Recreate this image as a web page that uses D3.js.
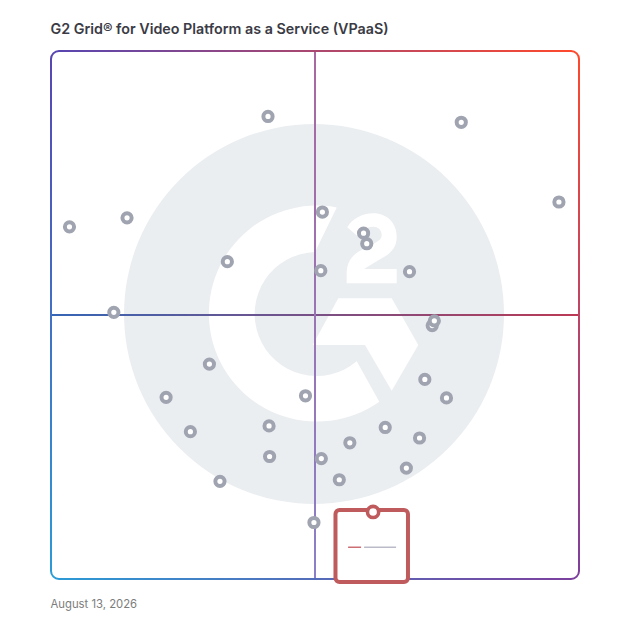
<!DOCTYPE html>
<html>
<head>
<meta charset="utf-8">
<title>G2 Grid</title>
<script src="https://cdn.jsdelivr.net/npm/d3@7"></script>
<style>
  html, body { margin: 0; padding: 0; background: #fff; }
  svg { display: block; }
  text { font-family: Inter, Roboto, sans-serif; }
</style>
</head>
<body>
<div id="chart"></div>
<script>
'use strict';

// ── Data ───────────────────────────────────────────────────────────────────
const TITLE = 'G2 Grid® for Video Platform as a Service (VPaaS)';
const DATE_LABEL = 'August 13, 2026';

const presence = [41.1, 77.7, 96.2, 3.5, 14.4, 51.4, 59.2, 59.8, 33.4, 51.1, 67.9, 11.9,
  72.2, 72.6, 30.0, 70.8, 74.9, 21.8, 48.2, 26.4, 41.3, 63.3, 69.8, 56.6, 41.4, 51.2,
  67.3, 54.6, 32.0, 49.8];
const satisfaction = [87.6, 86.5, 71.4, 66.7, 68.4, 69.5, 65.5, 63.5, 60.1, 58.4, 58.2, 50.5,
  48.0, 48.9, 40.7, 37.8, 34.3, 34.4, 34.7, 27.9, 29.0, 28.7, 26.7, 25.8, 23.2, 22.8,
  21.0, 18.8, 18.5, 10.7];

const highlightPresence = 61.0;
const highlightSatisfaction = 12.7;

// ── Scales ─────────────────────────────────────────────────────────────────
const W = 628, H = 628;
const x = d3.scaleLinear().domain([0, 100]).range([51, 579]);
const y = d3.scaleLinear().domain([0, 100]).range([579, 51]);

const svg = d3.select('#chart').append('svg').attr('width', W).attr('height', H);
const defs = svg.append('defs');

function gradient(id, x1, y1, x2, y2, from, to) {
  const g = defs.append('linearGradient').attr('id', id)
    .attr('gradientUnits', 'userSpaceOnUse')
    .attr('x1', x1).attr('y1', y1).attr('x2', x2).attr('y2', y2);
  g.append('stop').attr('offset', 0).attr('stop-color', from);
  g.append('stop').attr('offset', 1).attr('stop-color', to);
  return `url(#${id})`;
}

const TL = '#5746b2', TR = '#ff492c', BL = '#2b9bd6', BR = '#7d3f9e';
const [x0, x1] = x.range();
const [y0, y1] = y.range();

// ── Title and date ─────────────────────────────────────────────────────────
svg.append('text').attr('x', 50.5).attr('y', 34)
  .attr('font-size', 14.3).attr('font-weight', 600).attr('fill', '#3b3b45')
  .text(TITLE);

svg.append('text').attr('x', 50.5).attr('y', 608)
  .attr('font-size', 11.3).attr('fill', '#7c7c7c')
  .text(DATE_LABEL);

// ── G2 watermark ───────────────────────────────────────────────────────────
const logo = svg.append('g').attr('transform', 'translate(314,314)');
logo.append('circle').attr('r', 190).attr('fill', '#ebeef1');
logo.append('path').attr('fill', '#fff')
  .attr('d', 'M22.7,-106.6 A108,108 0 1 0 65.3,87.7 L42.7,47.3 A62,62 0 1 1 1,-62 Z');
logo.append('path').attr('fill', '#fff')
  .attr('d', 'M24.3,-15.7 L77.7,-15.7 L104.3,31 L77.7,76.7 L51,31 L-1.3,31 Z');
logo.append('path').attr('fill', '#fff')
  .attr('d', 'M33.3,-86.7 C38,-95 48,-100.7 59.3,-100.7 C73,-100.7 82.7,-91 82.7,-77.3 ' +
    'C82.7,-66 76,-60 67.7,-55.7 L50,-45 L82.7,-45 L82.7,-30.7 L32.7,-30.7 L32.7,-40.7 ' +
    'C32.7,-52 38,-58 44.3,-62.3 L62.7,-72 C66,-74 67.7,-76 67.7,-79 C67.7,-84 64,-87.3 59.3,-87.3 ' +
    'C52,-87.3 48,-83 44.3,-77.3 Z');

// ── Quadrant lines ─────────────────────────────────────────────────────────
svg.append('line')
  .attr('x1', x0).attr('x2', x1).attr('y1', y(50)).attr('y2', y(50))
  .attr('stroke', gradient('mid-h', x0, 0, x1, 0, '#3566b6', '#bb3a55'))
  .attr('stroke-width', 2);

svg.append('line')
  .attr('x1', x(50)).attr('x2', x(50)).attr('y1', y1).attr('y2', y0)
  .attr('stroke', gradient('mid-v', 0, y1, 0, y0, '#a9689f', '#8a80c8'))
  .attr('stroke-width', 2);

// ── Frame, one path per side so each can carry its own gradient ────────────
const r = 8;
const sides = [
  { id: 'top', d: `M${x0},${y1 + r} A${r},${r} 0 0 1 ${x0 + r},${y1} L${x1 - r},${y1} A${r},${r} 0 0 1 ${x1},${y1 + r}`,
    paint: gradient('side-top', x0, 0, x1, 0, TL, TR) },
  { id: 'right', d: `M${x1},${y1 + r} L${x1},${y0 - r}`,
    paint: gradient('side-right', 0, y1, 0, y0, TR, BR) },
  { id: 'bottom', d: `M${x0},${y0 - r} A${r},${r} 0 0 0 ${x0 + r},${y0} L${x1 - r},${y0} A${r},${r} 0 0 0 ${x1},${y0 - r}`,
    paint: gradient('side-bottom', x0, 0, x1, 0, BL, BR) },
  { id: 'left', d: `M${x0},${y1 + r} L${x0},${y0 - r}`,
    paint: gradient('side-left', 0, y1, 0, y0, TL, BL) },
];

svg.append('g').selectAll('path')
  .data(sides)
  .join('path')
  .attr('d', d => d.d)
  .attr('fill', 'none')
  .attr('stroke', d => d.paint)
  .attr('stroke-width', 2);

// ── Vendor points ──────────────────────────────────────────────────────────
svg.append('g').selectAll('circle')
  .data(d3.range(presence.length))
  .join('circle')
  .attr('cx', i => x(presence[i]))
  .attr('cy', i => y(satisfaction[i]))
  .attr('r', 4.6)
  .attr('fill', '#fff')
  .attr('stroke', '#a0a4b1')
  .attr('stroke-width', 4);

// ── Highlighted vendor card ────────────────────────────────────────────────
const cx = x(highlightPresence), cy = y(highlightSatisfaction);
const card = svg.append('g');
card.append('rect')
  .attr('x', cx - 37.6).attr('y', cy - 2).attr('width', 72.5).attr('height', 72)
  .attr('rx', 4)
  .attr('fill', '#fff').attr('stroke', '#bf5b5d').attr('stroke-width', 4);
card.append('circle')
  .attr('cx', cx).attr('cy', cy).attr('r', 5.6)
  .attr('fill', '#fff').attr('stroke', '#bf5b5d').attr('stroke-width', 3.6);
// vendor wordmark, too small to read in the picture
card.append('rect')
  .attr('x', cx - 25).attr('y', cy + 34.6).attr('width', 13).attr('height', 1.4)
  .attr('fill', '#b8343e').attr('opacity', 0.75);
card.append('rect')
  .attr('x', cx - 9).attr('y', cy + 34.6).attr('width', 32).attr('height', 1.4)
  .attr('fill', '#5f6080').attr('opacity', 0.45);
</script>
</body>
</html>
